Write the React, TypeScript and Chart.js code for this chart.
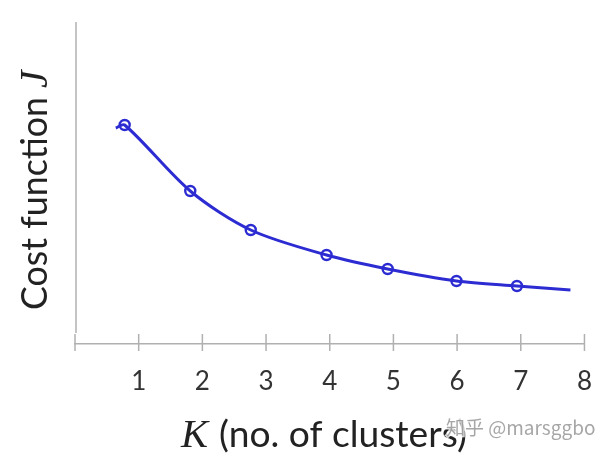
import React, { useEffect, useRef } from "react";
import { Chart, registerables } from "chart.js";

Chart.register(...registerables);

// K values along the hand-drawn curve (first/last are the curve ends without markers)
const kValues = [0.64, 0.78, 1.81, 2.76, 3.95, 4.91, 5.99, 6.94, 7.78];
// Cost J (arbitrary units)
const costValues = [216, 219, 153, 114, 89, 75, 63, 58, 54];
const markerRadius = [0, 5, 5, 5, 5, 5, 5, 5, 0];
const xTickValues = [0, 1, 2, 3, 4, 5, 6, 7, 8];
const yTitle = "Cost function";
const yTitleVar = "J";
const xTitleVar = "K";
const xTitle = "(no. of clusters)";
const watermark = "知乎 @marsggbo";

const SANS = "Lato, 'Open Sans', sans-serif";
const SERIF = "'Liberation Serif', 'DejaVu Serif', serif";

function fitSize(ctx: CanvasRenderingContext2D, text: string, style: string, family: string, target: number) {
  ctx.font = `${style} 100px ${family}`;
  const w = ctx.measureText(text).width;
  return (100 * target) / w;
}

const decorPlugin = {
  id: "decor",
  afterDraw(chart: any) {
    const ctx: CanvasRenderingContext2D = chart.ctx;
    const x = chart.scales.x;
    const area = chart.chartArea;
    ctx.save();
    // y axis line (stops short of x axis)
    ctx.strokeStyle = "#b0b0b0";
    ctx.lineWidth = 1.5;
    ctx.beginPath();
    ctx.moveTo(area.left + 1, area.top);
    ctx.lineTo(area.left + 1, area.bottom - 11);
    ctx.stroke();
    // tick marks crossing the x axis
    for (const v of xTickValues) {
      const px = x.getPixelForValue(v);
      ctx.beginPath();
      ctx.moveTo(px, area.bottom - 10);
      ctx.lineTo(px, area.bottom + 7);
      ctx.stroke();
    }

    // y title
    ctx.fillStyle = "#222";
    const ySize = fitSize(ctx, yTitle, "normal", SANS, 213);
    ctx.translate(47, 310);
    ctx.rotate(-Math.PI / 2);
    ctx.textBaseline = "alphabetic";
    ctx.textAlign = "left";
    ctx.font = `normal ${ySize}px ${SANS}`;
    ctx.fillText(yTitle, 0, 0);
    ctx.font = `italic ${ySize * 1.1}px ${SERIF}`;
    ctx.fillText(yTitleVar, 222, 0);
    ctx.setTransform(chart.currentDevicePixelRatio, 0, 0, chart.currentDevicePixelRatio, 0, 0);

    // x title
    const kSize = fitSize(ctx, xTitleVar, "italic", SERIF, 27);
    ctx.font = `italic ${kSize}px ${SERIF}`;
    ctx.fillText(xTitleVar, 181, 447);
    const xSize = fitSize(ctx, xTitle, "normal", SANS, 248);
    ctx.font = `normal ${xSize}px ${SANS}`;
    ctx.fillText(xTitle, 219, 447);

    // watermark
    ctx.font = `19px 'Noto Sans CJK SC', sans-serif`;
    ctx.textBaseline = "middle";
    ctx.lineWidth = 3;
    ctx.strokeStyle = "rgba(255,255,255,0.8)";
    ctx.strokeText(watermark, 446, 428);
    ctx.fillStyle = "rgba(150,150,150,0.85)";
    ctx.fillText(watermark, 446, 428);
    ctx.restore();
  },
};

export default function App() {
  const ref = useRef<HTMLCanvasElement>(null);
  useEffect(() => {
    document.body.style.margin = "0";
    const chart = new Chart(ref.current!, {
      type: "line",
      data: {
        datasets: [
          {
            data: kValues.map((k, i) => ({ x: k, y: costValues[i] })),
            borderColor: "#2c2cd2",
            borderWidth: 3,
            pointRadius: markerRadius,
            pointBorderColor: "#2c2cd2",
            pointBorderWidth: 2.4,
            pointBackgroundColor: "rgba(0,0,0,0)",
            tension: 0.3,
            fill: false,
          },
        ],
      },
      options: {
        animation: false,
        responsive: false,
        devicePixelRatio: 1,
        layout: { padding: { top: 22, right: 19, left: 0, bottom: 0 } },
        plugins: { legend: { display: false }, tooltip: { enabled: false } },
        scales: {
          x: {
            type: "linear",
            min: 0,
            max: 8,
            afterFit: (s: any) => {
              s.height = 110;
            },
            grid: { display: false },
            border: { display: true, color: "#b0b0b0", width: 1.5 },
            ticks: {
              stepSize: 1,
              padding: 14,
              color: "#333",
              font: { family: SANS, size: 26 },
              callback: (v: any) => (v === 0 ? "" : String(v)),
            },
          },
          y: {
            min: 0,
            max: 322,
            afterFit: (s: any) => {
              s.width = 75;
            },
            grid: { display: false },
            border: { display: false },
            ticks: { display: false },
          },
        },
      },
      plugins: [decorPlugin],
    });
    return () => chart.destroy();
  }, []);
  return (
    <div style={{ width: 606, height: 454, background: "#fff" }}>
      <canvas ref={ref} width={606} height={454} style={{ display: "block" }} />
    </div>
  );
}
